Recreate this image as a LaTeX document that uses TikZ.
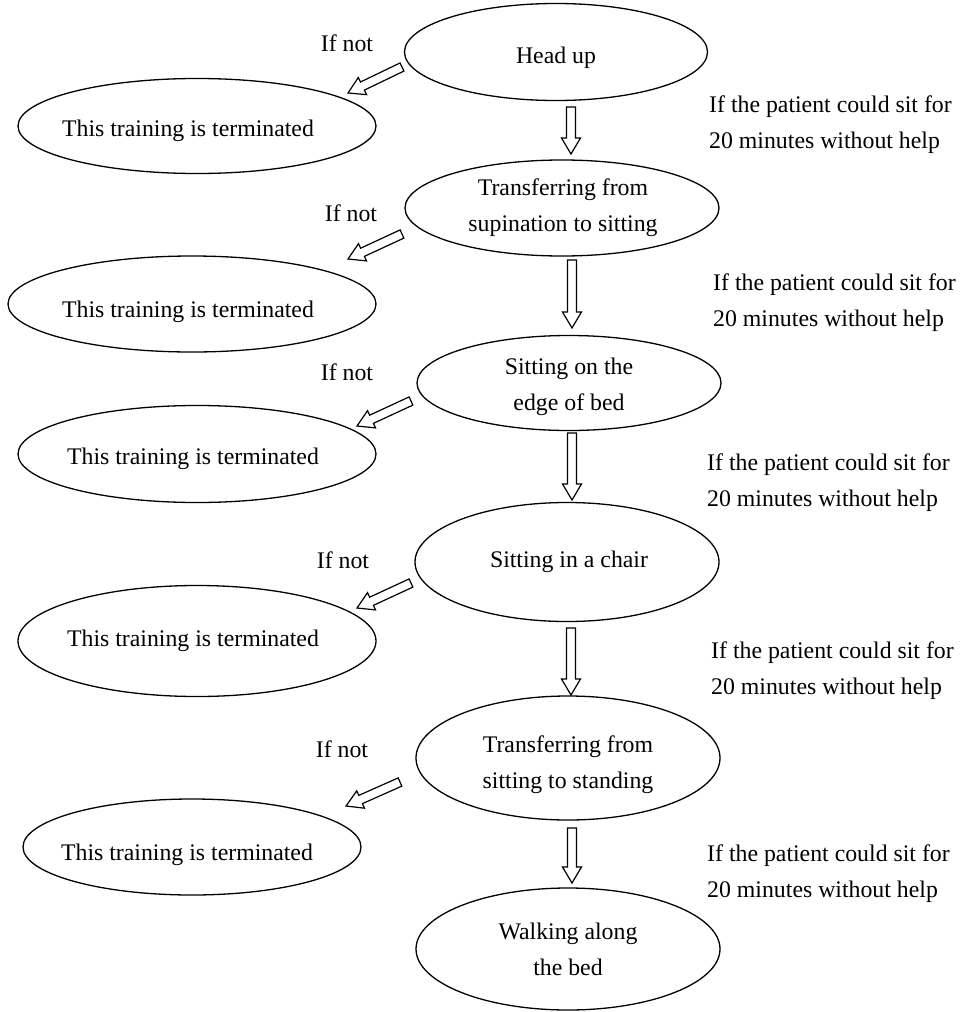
\documentclass[tikz,border=0pt]{standalone}
\usepackage{fontspec}
\setmainfont{Liberation Serif}
\usetikzlibrary{shapes.geometric,calc}
\tikzset{
  txt/.style={font=\fontsize{23.8}{36}\selectfont},
  stage/.style={draw, ellipse, line width=1.3pt, inner sep=0pt},
  inside/.style={txt, align=center, inner sep=0pt},
  note/.style={inner sep=0pt, align=left, txt},
  hollow/.style={draw, line width=1.2pt, fill=white, line join=miter},
}
% hollow block arrow from #1 (tail) to #2 (tip)
\newcommand\hollowarrow[2]{%
  \draw[hollow] ($(#1)!4.5pt!90:(#2)$)
    -- ($(#2)!16pt!(#1)!4.5pt!90:(#2)$)
    -- ($(#2)!16pt!(#1)!9.5pt!90:(#2)$)
    -- (#2)
    -- ($(#2)!16pt!(#1)!9.5pt!-90:(#2)$)
    -- ($(#2)!16pt!(#1)!4.5pt!-90:(#2)$)
    -- ($(#1)!4.5pt!-90:(#2)$) -- cycle;}
\begin{document}
\begin{tikzpicture}[x=1pt,y=-1pt]
\useasboundingbox (0,0) rectangle (965,1012);

% main column
\node[stage, minimum width=303, minimum height=97,
  label={[inside, yshift=-6pt]center:Head up}] (m1) at (556,52) {};
\node[stage, minimum width=314, minimum height=96,
  label={[inside, xshift=1pt]center:Transferring from\\supination to sitting}] (m2) at (562,208) {};
\node[stage, minimum width=304, minimum height=95,
  label={[inside, yshift=-4pt]center:Sitting on the\\edge of bed}] (m3) at (569,383) {};
\node[stage, minimum width=304, minimum height=119,
  label={[inside, xshift=2pt]center:Sitting in a chair}] (m4) at (567,562) {};
\node[stage, minimum width=304, minimum height=124,
  label={[inside, yshift=-7pt]center:Transferring from\\sitting to standing}] (m5) at (568,758) {};
\node[stage, minimum width=304, minimum height=122,
  label={[inside]center:Walking along\\the bed}] (m6) at (568,949) {};

% terminated column
\node[stage, minimum width=358, minimum height=95,
  label={[inside, xshift=-9pt, yshift=-5pt]center:This training is terminated}] (l1) at (197,126) {};
\node[stage, minimum width=368, minimum height=96,
  label={[inside, xshift=-4pt, yshift=-8pt]center:This training is terminated}] (l2) at (192,304) {};
\node[stage, minimum width=358, minimum height=97,
  label={[inside, xshift=-4pt, yshift=-5pt]center:This training is terminated}] (l3) at (197,454) {};
\node[stage, minimum width=358, minimum height=111,
  label={[inside, xshift=-4pt]center:This training is terminated}] (l4) at (197,641) {};
\node[stage, minimum width=338, minimum height=96,
  label={[inside, xshift=-5pt, yshift=-8pt]center:This training is terminated}] (l5) at (192,847) {};

% "If not" labels
\node[note] (n1) at (347,43) {If not};
\node[note] (n2) at (351,213) {If not};
\node[note] (n3) at (347,372) {If not};
\node[note] (n4) at (343,560) {If not};
\node[note] (n5) at (342,749) {If not};

% condition labels
\node[note, anchor=west] (c1) at (709,125) {If the patient could sit for\\20 minutes without help};
\node[note, anchor=west] (c2) at (713,303) {If the patient could sit for\\20 minutes without help};
\node[note, anchor=west] (c3) at (707,483) {If the patient could sit for\\20 minutes without help};
\node[note, anchor=west] (c4) at (711,671) {If the patient could sit for\\20 minutes without help};
\node[note, anchor=west] (c5) at (707,874) {If the patient could sit for\\20 minutes without help};

% arrow end points
\coordinate (d1s) at (571,107); \coordinate (d1e) at (571,154);
\coordinate (d2s) at (572,260); \coordinate (d2e) at (572,328);
\coordinate (d3s) at (572,433); \coordinate (d3e) at (572,500);
\coordinate (d4s) at (571,628); \coordinate (d4e) at (571,695);
\coordinate (d5s) at (572,828); \coordinate (d5e) at (572,883);

\coordinate (s1s) at (402,67);  \coordinate (s1e) at (348,93);
\coordinate (s2s) at (402,234); \coordinate (s2e) at (348,259);
\coordinate (s3s) at (411,401); \coordinate (s3e) at (357,426);
\coordinate (s4s) at (411,583); \coordinate (s4e) at (357,608);
\coordinate (s5s) at (400,782); \coordinate (s5e) at (346,806);

\hollowarrow{d1s}{d1e}
\hollowarrow{d2s}{d2e}
\hollowarrow{d3s}{d3e}
\hollowarrow{d4s}{d4e}
\hollowarrow{d5s}{d5e}

\hollowarrow{s1s}{s1e}
\hollowarrow{s2s}{s2e}
\hollowarrow{s3s}{s3e}
\hollowarrow{s4s}{s4e}
\hollowarrow{s5s}{s5e}
\end{tikzpicture}
\end{document}
